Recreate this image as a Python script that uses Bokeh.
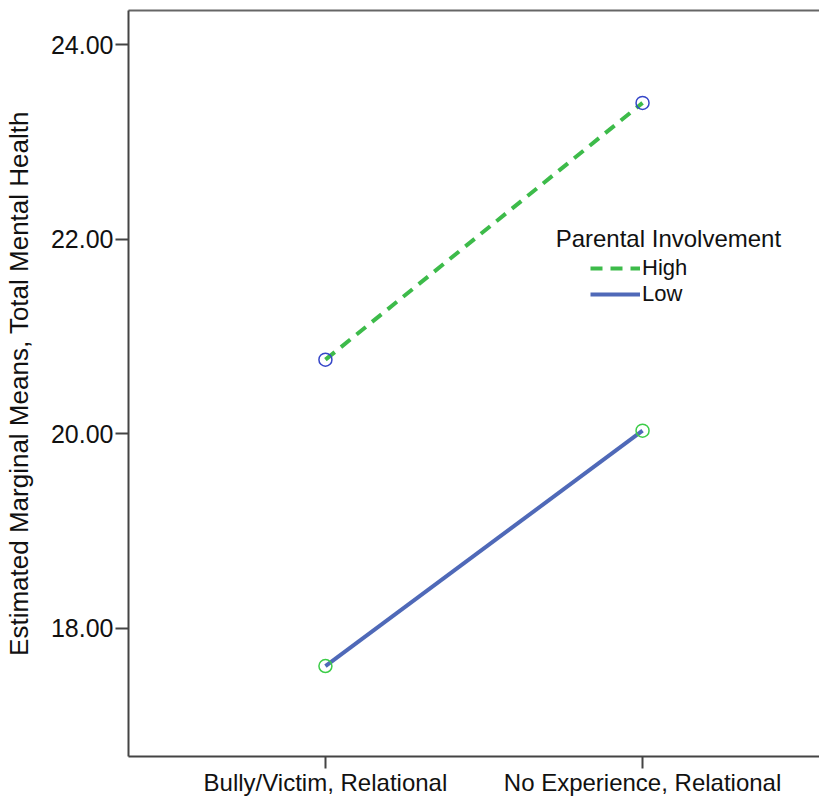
from bokeh.plotting import figure
from bokeh.models import (Range1d, FixedTicker, PrintfTickFormatter, LinearAxis,
                          Legend, LegendItem, Label)
from bokeh.embed import file_html
from bokeh.resources import INLINE

# ---- data ----
categories = ["Bully/Victim, Relational", "No Experience, Relational"]
x_pos = [0, 1]
high = [20.76, 23.40]
low = [17.61, 20.03]
y_ticks = [18, 20, 22, 24]
series_names = ["High", "Low"]
legend_title = "Parental Involvement"
y_label = "Estimated Marginal Means, Total Mental Health"

FONT = "Liberation Sans"
GREEN = "#3dbb4a"
BLUE = "#4f69b8"
MARK_BLUE = "#3546c8"
MARK_GREEN = "#3ccc48"
AXIS = "#444444"

p = figure(width=819, height=798,
           x_range=Range1d(-0.621, 1.558), y_range=Range1d(16.68, 24.35),
           output_backend="svg", toolbar_location=None,
           min_border_left=128, min_border_right=0,
           min_border_top=10, min_border_bottom=38)
p.outline_line_color = None
p.xgrid.visible = False
p.ygrid.visible = False
p.background_fill_color = "white"

# lines
r_high = p.line(x_pos, high, line_color=GREEN, line_width=4, line_dash="12 8")
r_low = p.line(x_pos, low, line_color=BLUE, line_width=4)
# markers (SPSS style: colors swapped)
p.scatter(x_pos, high, marker="circle", size=13, fill_color=None,
          line_color=MARK_BLUE, line_width=1.5)
p.scatter(x_pos, low, marker="circle", size=13, fill_color=None,
          line_color=MARK_GREEN, line_width=1.5)

# x axis
xa = p.xaxis[0]
xa.ticker = FixedTicker(ticks=x_pos)
xa.major_label_overrides = {x: c for x, c in zip(x_pos, categories)}
xa.minor_tick_line_color = None
xa.major_tick_in = 0
xa.major_tick_out = 12
xa.major_label_standoff = 0
xa.major_label_text_font = FONT
xa.major_label_text_font_size = "24px"
xa.major_label_text_color = "#111111"
xa.axis_line_color = AXIS
xa.axis_line_width = 2
xa.major_tick_line_color = AXIS
xa.major_tick_line_width = 2

# y axis
ya = p.yaxis[0]
ya.ticker = FixedTicker(ticks=y_ticks)
ya.formatter = PrintfTickFormatter(format="%.2f")
ya.minor_tick_line_color = None
ya.major_tick_in = 0
ya.major_tick_out = 13
ya.major_label_standoff = 2
ya.major_label_text_font = FONT
ya.major_label_text_font_size = "25px"
ya.major_label_text_color = "#111111"
ya.axis_line_color = AXIS
ya.axis_line_width = 2
ya.major_tick_line_color = AXIS
ya.major_tick_line_width = 2
ya.axis_label = y_label
ya.axis_label_text_font = FONT
ya.axis_label_text_font_size = "26px"
ya.axis_label_text_font_style = "normal"
ya.axis_label_text_color = "#111111"
ya.axis_label_standoff = 14

# top border line
top = LinearAxis(ticker=FixedTicker(ticks=[]), axis_line_color="#666666",
                 axis_line_width=2, major_tick_line_color=None,
                 minor_tick_line_color=None, major_label_text_font_size="0px")
p.add_layout(top, "above")

# legend
legend = Legend(items=[LegendItem(label=series_names[0], renderers=[r_high]),
                       LegendItem(label=series_names[1], renderers=[r_low])],
                location=(462, 449), glyph_width=50, glyph_height=20,
                label_height=25, spacing=0, padding=0, margin=0,
                label_standoff=2, border_line_color=None,
                background_fill_alpha=0, label_text_font=FONT,
                label_text_font_size="22px", label_text_color="#111111")
p.add_layout(legend)

p.add_layout(Label(x=0.726, y=22.01, text=legend_title, text_font=FONT,
                   text_font_size="24px", text_baseline="middle",
                   text_align="left", text_color="#111111"))

open("out.html", "w").write(file_html(p, INLINE))
